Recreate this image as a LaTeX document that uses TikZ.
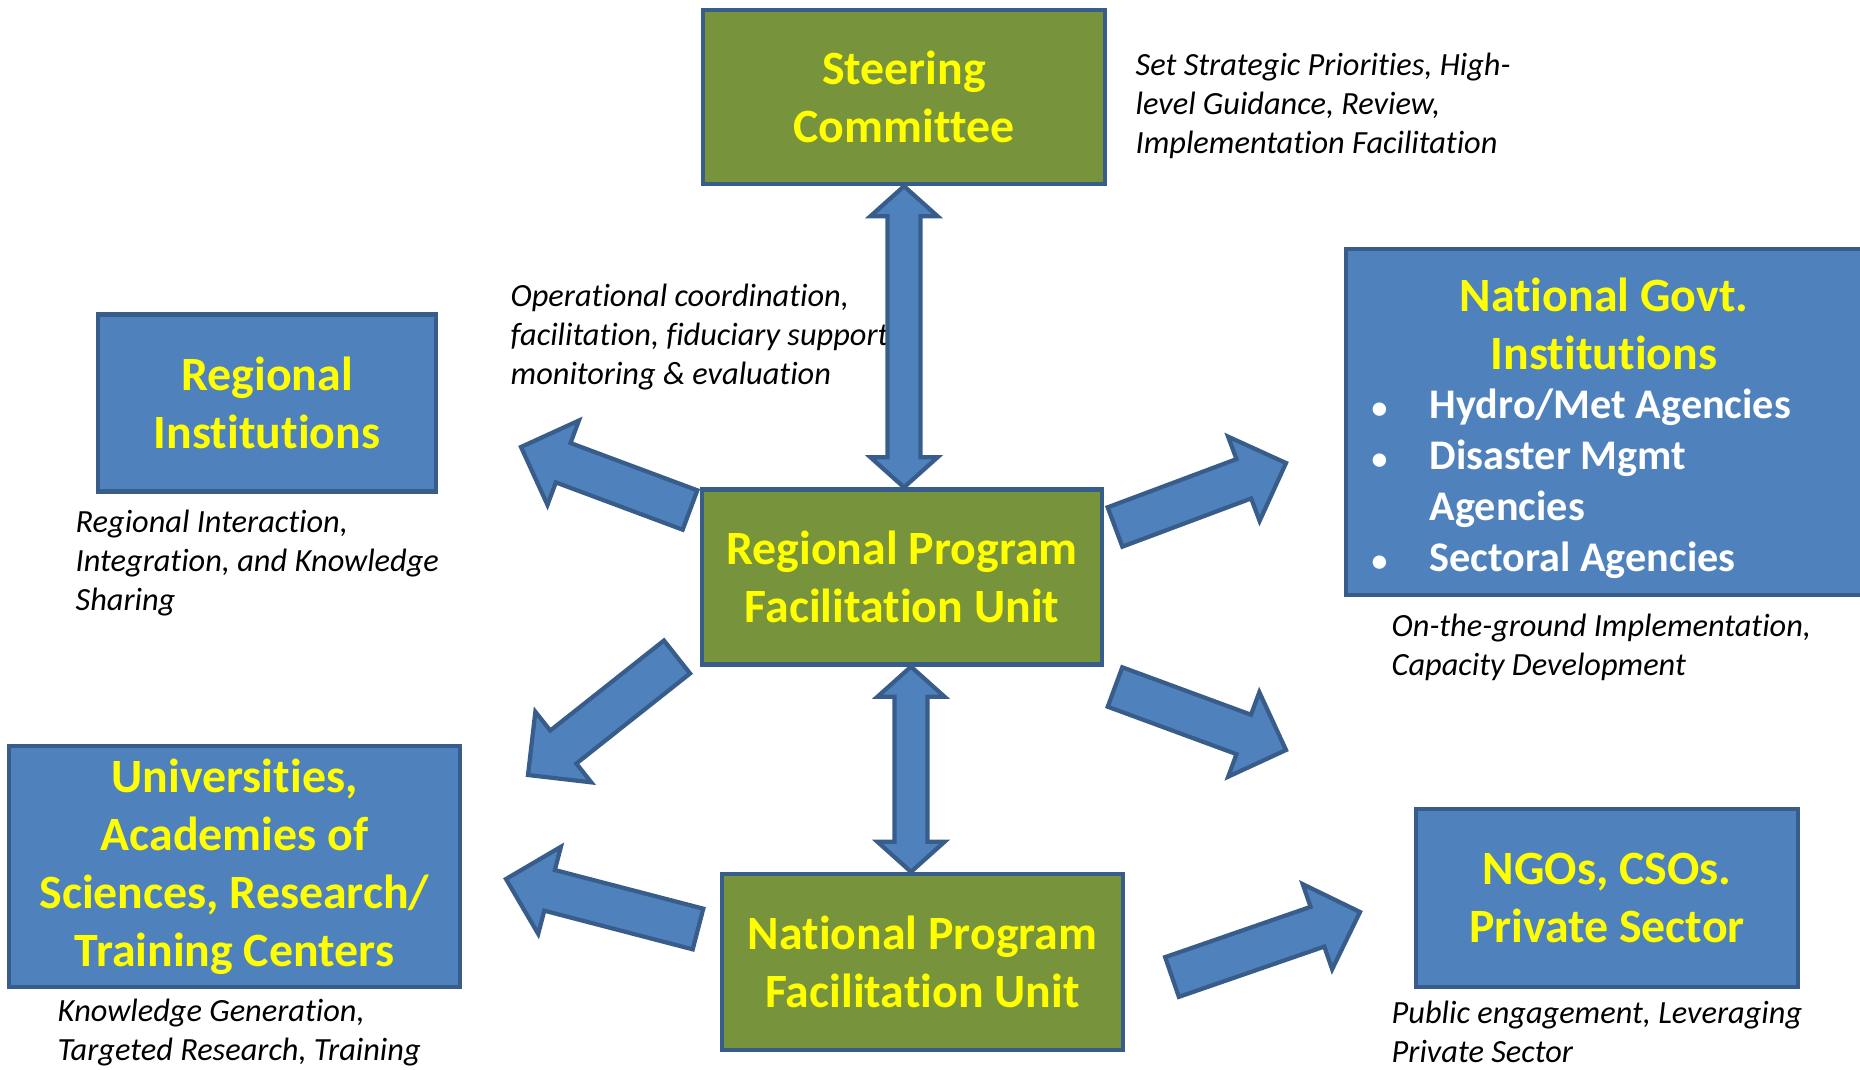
\documentclass[tikz,border=0pt]{standalone}
\usepackage{fontspec}
\setmainfont{Carlito}[Ligatures=NoCommon]
\usepackage{tikz}
\usetikzlibrary{calc}
\definecolor{boxblue}{HTML}{4F81BD}
\definecolor{boxline}{HTML}{385D8A}
\definecolor{boxgreen}{HTML}{77933C}
\definecolor{titleyellow}{HTML}{FFFF00}

% block arrow from #1 to #2
\newcommand{\fatarrow}[2]{%
  \coordinate (fa) at ($(#2)!0.45cm!(#1)$);
  \draw[blockarrow] ($(#1)!0.21cm!90:(#2)$) -- ($(fa)!0.21cm!90:(#2)$) -- ($(fa)!0.45cm!90:(#2)$) -- (#2)
    -- ($(fa)!0.45cm!-90:(#2)$) -- ($(fa)!0.21cm!-90:(#2)$) -- ($(#1)!0.21cm!-90:(#2)$) -- cycle;
}
% block arrow with two heads
\newcommand{\dblarrow}[2]{%
  \coordinate (da) at ($(#1)!0.30cm!(#2)$);
  \coordinate (db) at ($(#2)!0.30cm!(#1)$);
  \draw[blockarrow] (#1) -- ($(da)!0.335cm!90:(#2)$) -- ($(da)!0.165cm!90:(#2)$)
    -- ($(db)!0.165cm!-90:(#1)$) -- ($(db)!0.335cm!-90:(#1)$) -- (#2)
    -- ($(db)!0.335cm!90:(#1)$) -- ($(db)!0.165cm!90:(#1)$)
    -- ($(da)!0.165cm!-90:(#2)$) -- ($(da)!0.335cm!-90:(#2)$) -- cycle;
}
\newcommand{\smallbullet}{\makebox[0.63cm][l]{\hspace{0.05cm}\scalebox{0.75}{\textbullet}}}

\begin{document}
\begin{tikzpicture}[x=0.01cm,y=-0.01cm,
  box/.style={draw=boxline,line width=1.2pt,align=center,text=titleyellow,
    font=\fontsize{13.6}{16.5}\selectfont\bfseries},
  bluebox/.style={box,fill=boxblue},
  greenbox/.style={box,fill=boxgreen},
  note/.style={anchor=west,align=left,inner sep=0pt,
    font=\fontsize{9.2}{11.1}\selectfont\itshape},
  blockarrow/.style={draw=boxline,fill=boxblue,line width=1.2pt}]
  \useasboundingbox (0,0) rectangle (1860,1070);

  % boxes
  \node[greenbox,minimum width=4.02cm,minimum height=1.74cm] (sc) at (904,97) {Steering\\Committee};
  \node[bluebox,minimum width=3.38cm,minimum height=1.77cm] (ri) at (267,403) {Regional\\Institutions};
  \node[greenbox,minimum width=4.00cm,minimum height=1.75cm] (rpfu) at (902,577) {Regional Program\\Facilitation Unit};
  \node[bluebox,minimum width=5.16cm,minimum height=3.46cm] (ngi) at (1604,422) {};
  \node[box,draw=none] (ngit) at (1604,324) {National Govt.\\Institutions};
  \node[anchor=west,align=left,inner sep=0pt,text=white,
    font=\fontsize{12}{14.5}\selectfont\bfseries] (ngil) at (1366,484)
    {\smallbullet Hydro/Met Agencies\\
     \smallbullet Disaster Mgmt\\
     \hspace*{0.63cm}Agencies\\
     \smallbullet Sectoral Agencies};
  \node[bluebox,minimum width=4.51cm,minimum height=2.41cm] (univ) at (234.5,866.5)
    {Universities,\\Academies of\\Sciences, Research/\\Training Centers};
  \node[greenbox,minimum width=4.01cm,minimum height=1.76cm] (npfu) at (922.5,962) {National Program\\Facilitation Unit};
  \node[bluebox,minimum width=3.82cm,minimum height=1.78cm] (ngo) at (1607,898) {NGOs, CSOs.\\Private Sector};

  % roles
  \node[note] (sc-d) at (1135,106) {Set Strategic Priorities, High-\\level Guidance, Review,\\Implementation Facilitation};
  \node[note] (op-d) at (510,337) {Operational coordination,\\facilitation, fiduciary support,\\monitoring \& evaluation};
  \node[note] (ri-d) at (75,563) {Regional Interaction,\\Integration, and Knowledge\\Sharing};
  \node[note] (ngi-d) at (1391,647) {On-the-ground Implementation,\\Capacity Development};
  \node[note] (univ-d) at (57,1033) {Knowledge Generation,\\Targeted Research, Training};
  \node[note] (ngo-d) at (1391,1032) {Public engagement, Leveraging\\Private Sector};

  % two-way links between the units
  \coordinate (sc-b) at (sc.south);
  \coordinate (rp-t) at (sc.south |- rpfu.north);
  \dblarrow{sc-b}{rp-t}
  \coordinate (rp-b) at ($(rpfu.south)+(9,0)$);
  \coordinate (np-t) at (rp-b |- npfu.north);
  \dblarrow{rp-b}{np-t}

  % outward arrows
  \coordinate (s1) at (690,510);  \coordinate (e1) at (521,447);
  \coordinate (s2) at (1115,527); \coordinate (e2) at (1286,463);
  \coordinate (s3) at (677,657);  \coordinate (e3) at (528,775);
  \coordinate (s4) at (1115,687); \coordinate (e4) at (1286,750);
  \coordinate (s5) at (698,929);  \coordinate (e5) at (506,879);
  \coordinate (s6) at (1172,977); \coordinate (e6) at (1360,912);
  \foreach \n in {1,...,6} \fatarrow{s\n}{e\n};
\end{tikzpicture}
\end{document}
